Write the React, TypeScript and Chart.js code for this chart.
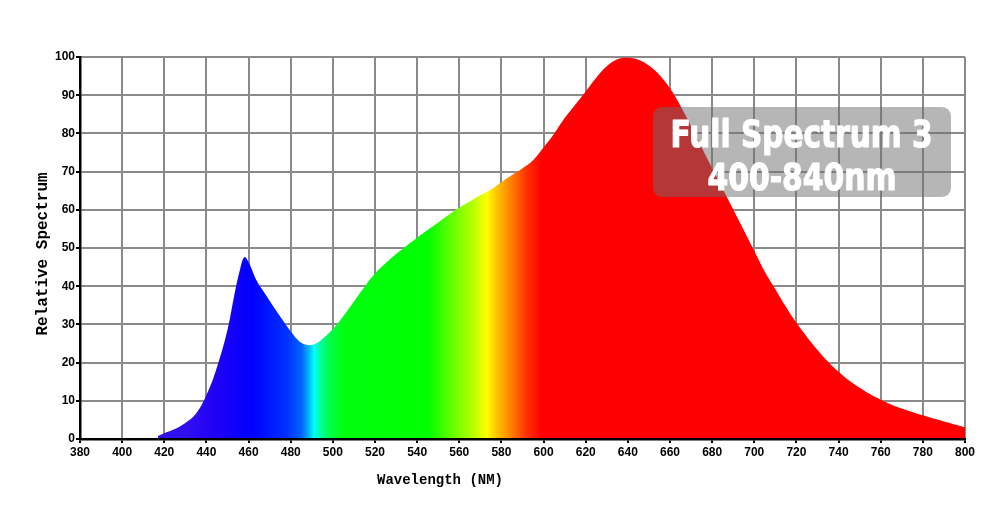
import React, { useEffect, useRef } from "react";
import { Chart, registerables } from "chart.js";

Chart.register(...registerables);

// Spectrum data (nm, relative value)
const wavelengths = [
  417, 420, 425, 430, 435, 440, 445, 450, 453, 456, 458, 460, 464, 468, 472,
  476, 480, 484, 488, 492, 495, 500, 505, 510, 515, 520, 525, 530, 535, 540,
  545, 550, 555, 560, 565, 570, 575, 580, 585, 590, 595, 600, 605, 610, 615,
  620, 625, 630, 635, 640, 645, 650, 655, 660, 665, 670, 675, 680, 685, 690,
  695, 700, 705, 710, 715, 720, 730, 740, 750, 760, 770, 780, 790, 800,
];
const values = [
  0.8, 1.5, 2.6, 4.2, 6.6, 11.5, 18.8, 28.6, 37, 44.5, 47.6, 46.3, 41.3, 37.9, 34.5,
  31.3, 28.2, 25.6, 24.6, 25, 26.2, 28.8, 32.2, 36, 39.8, 43.3, 46, 48.4, 50.6, 52.7,
  54.7, 56.7, 58.7, 60.6, 62.2, 63.8, 65.3, 67.2, 69.1, 70.9, 73, 76.3, 79.9, 84, 87.5,
  91, 94.6, 97.6, 99.4, 99.8, 99.3, 97.8, 95.3, 91.8, 87.2, 81.9, 76.4, 70.9, 65.5, 60.1,
  54.7, 49.2, 43.8, 39.2, 34.6, 30.4, 23.3, 17.6, 13.4, 10.3, 8.0, 6.2, 4.6, 3.1,
];

// Axis ranges / ticks
const xMin = 380;
const xMax = 800;
const xStep = 20;
const yMin = 0;
const yMax = 100;
const yStep = 10;

// Colour of the spectrum along the wavelength axis
const colorStopNm = [
  380, 430, 445, 462, 478, 485, 489, 491, 494, 498, 505, 545, 556, 566, 573,
  577, 583, 592, 599, 800,
];
const colorStopColor = [
  "#3510ee", "#3010f0", "#2000f5", "#0000ff", "#0030ff", "#0060ff", "#00c0ff",
  "#00ffff", "#00ffa0", "#00ff50", "#00ff10", "#00ff00", "#60ff00", "#b0ff00",
  "#ffff00", "#ffcc00", "#ff9000", "#ff3000", "#ff0000", "#ff0000",
];

// Texts
const xTitle = "Wavelength (NM)";
const yTitle = "Relative Spectrum";
const badgeLines = ["Full Spectrum 3", "400-840nm"];

export default function App() {
  const ref = useRef<HTMLCanvasElement>(null);

  useEffect(() => {
    const canvas = ref.current;
    if (!canvas) return;

    const overlay = {
      id: "overlay",
      afterDraw(chart: any) {
        const ctx = chart.ctx as CanvasRenderingContext2D;
        ctx.save();
        // axis titles
        ctx.fillStyle = "#000";
        ctx.textAlign = "center";
        ctx.textBaseline = "middle";
        ctx.font = "bold 14px 'Liberation Mono'";
        ctx.fillText(xTitle, 440, 480);
        ctx.save();
        ctx.translate(43, 254);
        ctx.rotate(-Math.PI / 2);
        ctx.font = "bold 16px 'Liberation Mono'";
        ctx.fillText(yTitle, 0, 0);
        ctx.restore();

        // badge
        const bx = 653, by = 107, bw = 298, bh = 90;
        ctx.fillStyle = "rgba(110,110,110,0.5)";
        ctx.beginPath();
        (ctx as any).roundRect(bx, by, bw, bh, 9);
        ctx.fill();

        const drawFit = (text: string, cx: number, base: number, w: number) => {
          ctx.font = "bold 37px 'DejaVu Sans'";
          const m = ctx.measureText(text).width;
          ctx.save();
          ctx.translate(cx, base);
          ctx.scale(w / m, 1);
          ctx.textAlign = "center";
          ctx.textBaseline = "alphabetic";
          ctx.fillStyle = "#fff";
          ctx.strokeStyle = "#fff";
          ctx.lineWidth = 1.2;
          ctx.lineJoin = "round";
          ctx.fillText(text, 0, 0);
          ctx.strokeText(text, 0, 0);
          ctx.restore();
        };
        drawFit(badgeLines[0], 801.5, 147, 262);
        drawFit(badgeLines[1], 802, 190, 189);
        ctx.restore();
      },
    };

    const chart = new Chart(canvas, {
      type: "line",
      data: {
        datasets: [
          {
            data: wavelengths.map((w, i) => ({ x: w, y: values[i] })),
            fill: "origin",
            borderWidth: 0,
            pointRadius: 0,
            tension: 0.4,
            backgroundColor: (c: any) => {
              const ch = c.chart;
              if (!ch.chartArea) return "#ff0000";
              const xs = ch.scales.x;
              const x0 = xs.getPixelForValue(xMin);
              const x1 = xs.getPixelForValue(xMax);
              const g = ch.ctx.createLinearGradient(x0, 0, x1, 0);
              colorStopNm.forEach((nm, i) => {
                g.addColorStop((nm - xMin) / (xMax - xMin), colorStopColor[i]);
              });
              return g;
            },
          } as any,
        ],
      },
      options: {
        animation: false,
        responsive: false,
        devicePixelRatio: 1,
        layout: { padding: { left: 0, right: 35, top: 57, bottom: 0 } },
        plugins: { legend: { display: false }, tooltip: { enabled: false } },
        scales: {
          x: {
            type: "linear",
            min: xMin,
            max: xMax,
            afterFit: (s: any) => {
              s.height = 91;
            },
            ticks: {
              stepSize: xStep,
              color: "#000",
              padding: 2,
              maxRotation: 0,
              font: { family: "'Liberation Sans'", weight: "bold", size: 12 },
            },
            grid: {
              color: "#8a8a8a",
              lineWidth: 2,
              tickColor: "#000",
              tickLength: 4,
              tickWidth: 2,
            },
            border: { color: "#000", width: 2.5, z: 1 },
          },
          y: {
            min: yMin,
            max: yMax,
            afterFit: (s: any) => {
              s.width = 80;
            },
            ticks: {
              stepSize: yStep,
              color: "#000",
              padding: 1,
              font: { family: "'Liberation Sans'", weight: "bold", size: 12 },
            },
            grid: {
              color: "#8a8a8a",
              lineWidth: 2,
              tickColor: "#000",
              tickLength: 4,
              tickWidth: 2,
            },
            border: { color: "#000", width: 2.5, z: 1 },
          },
        },
      } as any,
      plugins: [overlay],
    });

    return () => chart.destroy();
  }, []);

  return (
    <div style={{ position: "absolute", left: 0, top: 0, width: 1000, height: 530, background: "#fff" }}>
      <canvas ref={ref} width={1000} height={530} />
    </div>
  );
}
